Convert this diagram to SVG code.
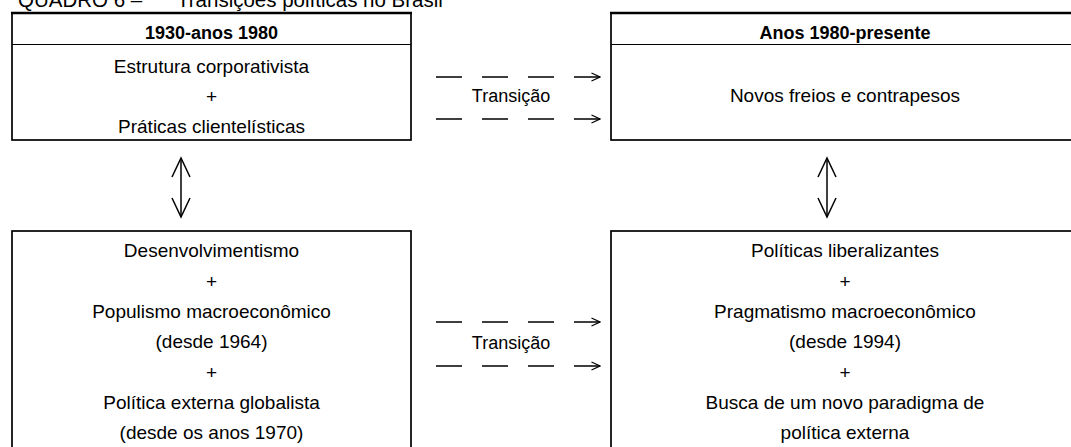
<svg xmlns="http://www.w3.org/2000/svg" width="1071" height="447" viewBox="0 0 1071 447">
<style>
  text { font-family: "Liberation Sans", Arial, sans-serif; fill: #000; text-anchor: middle; }
  .title { font-size: 20.5px; text-anchor: start; }
  .hdr { font-size: 18px; font-weight: bold; }
  .body { font-size: 19px; }
  .lbl { font-size: 18px; }
  .box { fill: #fff; stroke: #000; stroke-width: 1.7; }
  .top { stroke: #000; stroke-width: 2.4; }
  .div { stroke: #000; stroke-width: 1.2; }
  .dash { fill: none; stroke: #000; stroke-width: 1.3; stroke-dasharray: 26 20; }
  .dbl { fill: none; stroke: #000; stroke-width: 1.5; }
</style>
<defs>
  <marker id="open" viewBox="0 0 10 10" refX="9.5" refY="5" markerWidth="10" markerHeight="10" markerUnits="userSpaceOnUse" orient="auto">
    <path d="M1,1 L9.5,5 L1,9" fill="none" stroke="#000" stroke-width="1.2"/>
  </marker>
</defs>
<rect width="1071" height="447" fill="#fff"/>
<text class="title" x="18" y="7">QUADRO 6 –<tspan x="177">Transições políticas no Brasil</tspan></text>

<g id="node-1930">
  <rect class="box" x="12" y="13" width="399" height="127"/>
  <line class="top" x1="11" y1="13" x2="412" y2="13"/>
  <line class="div" x1="12" y1="44.5" x2="411" y2="44.5"/>
  <text class="hdr" x="211.5" y="39">1930-anos 1980</text>
  <text class="body" x="211.5" y="73">Estrutura corporativista</text>
  <text class="body" x="211.5" y="103">+</text>
  <text class="body" x="211.5" y="133">Práticas clientelísticas</text>
</g>

<g id="node-1980">
  <rect class="box" x="611" y="13" width="470" height="127"/>
  <line class="top" x1="610" y1="13" x2="1082" y2="13"/>
  <line class="div" x1="611" y1="44.5" x2="1081" y2="44.5"/>
  <text class="hdr" x="845" y="39">Anos 1980-presente</text>
  <text class="body" x="845" y="102">Novos freios e contrapesos</text>
</g>

<g id="node-desenv">
  <rect class="box" x="12" y="231" width="399" height="240"/>
  <text class="body" x="211.5" y="257">Desenvolvimentismo</text>
  <text class="body" x="211.5" y="287.5">+</text>
  <text class="body" x="211.5" y="318">Populismo macroeconômico</text>
  <text class="body" x="211.5" y="348">(desde 1964)</text>
  <text class="body" x="211.5" y="378.5">+</text>
  <text class="body" x="211.5" y="409">Política externa globalista</text>
  <text class="body" x="211.5" y="439">(desde os anos 1970)</text>
</g>

<g id="node-liberal">
  <rect class="box" x="611" y="231" width="470" height="240"/>
  <text class="body" x="845" y="257">Políticas liberalizantes</text>
  <text class="body" x="845" y="287.5">+</text>
  <text class="body" x="845" y="318">Pragmatismo macroeconômico</text>
  <text class="body" x="845" y="348">(desde 1994)</text>
  <text class="body" x="845" y="378.5">+</text>
  <text class="body" x="845" y="409">Busca de um novo paradigma de</text>
  <text class="body" x="845" y="439">política externa</text>
</g>

<g id="connectors">
  <line class="dash" x1="436" y1="77" x2="600" y2="77" marker-end="url(#open)"/>
  <line class="dash" x1="436" y1="119" x2="600" y2="119" marker-end="url(#open)"/>
  <text class="lbl" x="511" y="102">Transição</text>
  <line class="dash" x1="436" y1="322" x2="600" y2="322" marker-end="url(#open)"/>
  <line class="dash" x1="436" y1="366" x2="600" y2="366" marker-end="url(#open)"/>
  <text class="lbl" x="511" y="349">Transição</text>
  <g class="dbl">
    <line x1="181" y1="159" x2="181" y2="217"/>
    <polyline points="172,177 181,158 190,177"/>
    <polyline points="172,198 181,217 190,198"/>
    <line x1="827" y1="159" x2="827" y2="217"/>
    <polyline points="818,177 827,158 836,177"/>
    <polyline points="818,198 827,217 836,198"/>
  </g>
</g>
</svg>
